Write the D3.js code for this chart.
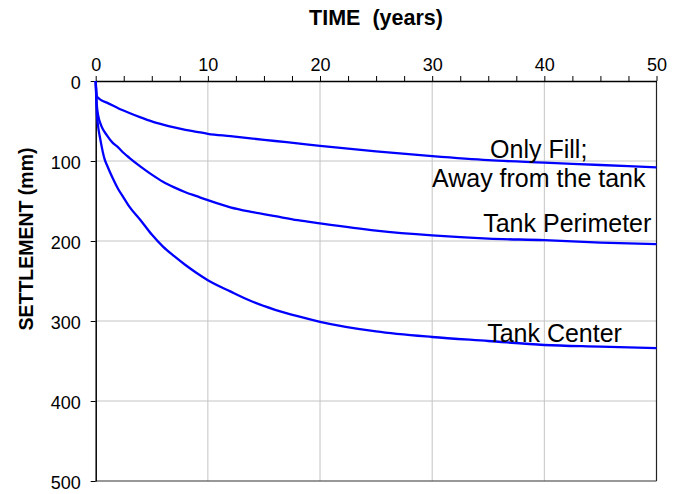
<!DOCTYPE html>
<html>
<head>
<meta charset="utf-8">
<script src="https://cdn.jsdelivr.net/npm/d3@7"></script>
<style>
  body { margin: 0; background: #fff; }
  svg { display: block; font-family: "Liberation Sans", Arial, sans-serif; }
</style>
</head>
<body>
<script>
const W = 684, H = 494;
const margin = { top: 81, right: 27.5, bottom: 13, left: 95.7 };

// time (years) and settlement (mm)
const fillT = [0, 0.05, 0.1, 0.3, 0.5, 1, 2, 3, 4, 5, 6, 7, 8, 9, 10, 12, 14, 16, 18, 20, 25, 30, 35, 40, 45, 50];
const fillS = [0, 12, 19, 22, 24, 27, 34, 40, 45.5, 50.5, 54.5, 58, 61, 63.5, 66, 69, 72, 75, 78, 81, 88, 94, 99, 102, 105, 108];

const perimT = [0, 0.1, 0.25, 0.5, 1, 1.5, 2, 2.5, 3, 4, 5, 6, 7, 8, 9, 10, 12, 14, 16, 18, 20, 25, 30, 35, 40, 45, 50];
const perimS = [0, 30, 45, 56, 68, 77, 83, 90, 96, 107, 117, 126, 133, 139, 144, 149, 158, 164, 169, 174, 178, 187, 193, 197, 199, 202, 204];

const centerT = [0, 0.1, 0.2, 0.4, 0.8, 1, 1.5, 2, 2.5, 3, 4, 5, 6, 7, 8, 9, 10, 12, 14, 16, 18, 20, 25, 30, 35, 40, 45, 50];
const centerS = [0, 40, 55, 72, 98, 105, 121, 135, 146, 157, 174, 192, 207, 219, 230, 240, 249, 263, 276, 286, 294, 301, 313, 320, 325, 330, 332, 334];

const xTicks = [0, 10, 20, 30, 40, 50];
const yTicks = [0, 100, 200, 300, 400, 500];

const labels = [
  { text: "Only Fill;", t: 39.5, s: 96, anchor: "middle" },
  { text: "Away from the tank", t: 39.5, s: 132, anchor: "middle" },
  { text: "Tank Perimeter", t: 34.55, s: 188.5, anchor: "start" },
  { text: "Tank Center", t: 34.9, s: 326, anchor: "start" }
];

const svg = d3.select("body").append("svg")
  .attr("width", W)
  .attr("height", H);

const x = d3.scaleLinear().domain([0, 50]).range([margin.left, W - margin.right]);
const y = d3.scaleLinear().domain([0, 500]).range([margin.top, H - margin.bottom]);

// grid
svg.append("g")
  .selectAll("line")
  .data([10, 20, 30, 40])
  .join("line")
  .attr("x1", d => x(d)).attr("x2", d => x(d))
  .attr("y1", y(0)).attr("y2", y(500))
  .attr("stroke", "#c4c4c4").attr("stroke-width", 1);

svg.append("g")
  .selectAll("line")
  .data([100, 200, 300, 400])
  .join("line")
  .attr("x1", x(0)).attr("x2", x(50))
  .attr("y1", d => y(d)).attr("y2", d => y(d))
  .attr("stroke", "#c4c4c4").attr("stroke-width", 1);

// right and bottom frame
svg.append("line")
  .attr("x1", x(50)).attr("x2", x(50))
  .attr("y1", y(0)).attr("y2", y(500))
  .attr("stroke", "#222").attr("stroke-width", 1.2);
svg.append("line")
  .attr("x1", x(0)).attr("x2", x(50))
  .attr("y1", y(500)).attr("y2", y(500))
  .attr("stroke", "#333").attr("stroke-width", 1.2);

// top axis with minor ticks every 2.5 years
const topAxis = svg.append("g")
  .attr("transform", `translate(0,${y(0)})`)
  .call(d3.axisTop(x).tickValues(d3.range(0, 50.1, 2.5)).tickSize(5).tickSizeOuter(0)
    .tickFormat(d => xTicks.includes(d) ? d : ""));
topAxis.select(".domain").attr("stroke", "#000").attr("stroke-width", 1.5);
topAxis.selectAll(".tick line").attr("stroke", "#000");
topAxis.selectAll(".tick text")
  .attr("font-size", 18).attr("font-family", "Liberation Sans, Arial, sans-serif")
  .attr("fill", "#000").attr("dy", "-2");

const leftAxis = svg.append("g")
  .attr("transform", `translate(${x(0)},0)`)
  .call(d3.axisLeft(y).tickValues(yTicks).tickSize(5).tickSizeOuter(0));
leftAxis.select(".domain").attr("stroke", "#000").attr("stroke-width", 1.5);
leftAxis.selectAll(".tick line").attr("stroke", "#000");
leftAxis.selectAll(".tick text")
  .attr("font-size", 18).attr("font-family", "Liberation Sans, Arial, sans-serif")
  .attr("fill", "#000").attr("dx", "-7").attr("dy", "0.4em");

// curves
const line = d3.line().x(d => x(d[0])).y(d => y(d[1])).curve(d3.curveMonotoneX);
const series = [
  d3.zip(fillT, fillS),
  d3.zip(perimT, perimS),
  d3.zip(centerT, centerS)
];
svg.append("g")
  .selectAll("path")
  .data(series)
  .join("path")
  .attr("d", line)
  .attr("fill", "none")
  .attr("stroke", "#0000ff")
  .attr("stroke-width", 2.3);

// curve labels
svg.append("g")
  .selectAll("text")
  .data(labels)
  .join("text")
  .attr("x", d => x(d.t))
  .attr("y", d => y(d.s))
  .attr("text-anchor", d => d.anchor)
  .attr("font-size", 25)
  .attr("fill", "#000")
  .text(d => d.text);

// axis titles
svg.append("text")
  .attr("x", 376).attr("y", 25)
  .attr("text-anchor", "middle")
  .attr("font-size", 21.5).attr("font-weight", "bold")
  .attr("xml:space", "preserve")
  .text("TIME  (years)");

svg.append("text")
  .attr("transform", `translate(33,239) rotate(-90)`)
  .attr("text-anchor", "middle")
  .attr("font-size", 19.5).attr("font-weight", "bold")
  .text("SETTLEMENT (mm)");
</script>
</body>
</html>
